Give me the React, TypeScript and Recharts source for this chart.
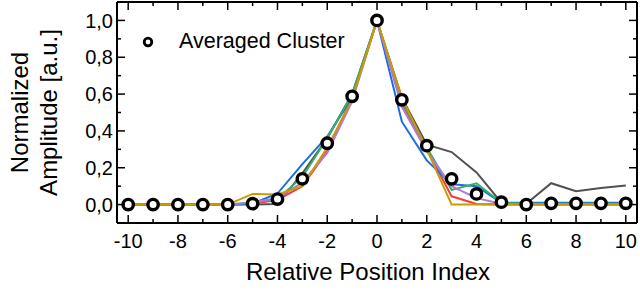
import React from 'react';
import { LineChart, Line, XAxis, YAxis, Legend } from 'recharts';

const positions = [-10, -9, -8, -7, -6, -5, -4, -3, -2, -1, 0, 1, 2, 3, 4, 5, 6, 7, 8, 9, 10];
const averagedCluster = [0, 0, 0, 0, 0, 0.005, 0.03, 0.14, 0.333, 0.588, 1.0, 0.569, 0.32, 0.14, 0.058, 0.013, 0.0, 0.007, 0.007, 0.007, 0.007];
const seriesGray = [0, 0, 0, 0, 0, 0, 0.003, 0.17, 0.36, 0.6, 1.0, 0.58, 0.325, 0.285, 0.175, 0.01, 0.004, 0.116, 0.072, 0.09, 0.103];
const seriesRed = [0, 0, 0, 0, 0, 0.005, 0.025, 0.1, 0.29, 0.58, 1.0, 0.55, 0.3, 0.045, 0.003, 0, 0, 0, 0, 0, 0];
const seriesBlue = [0, 0, 0, 0, 0, 0.005, 0.06, 0.22, 0.37, 0.58, 1.0, 0.45, 0.24, 0.11, 0.1, 0.01, 0.01, 0.01, 0.01, 0.01, 0.01];
const seriesGreen = [0, 0, 0, 0, 0, 0.01, 0.03, 0.15, 0.36, 0.6, 1.0, 0.56, 0.31, 0.08, 0.115, 0.01, 0.005, 0.005, 0.005, 0.005, 0.005];
const seriesPurple = [0, 0, 0, 0, 0, 0.012, 0.035, 0.12, 0.28, 0.56, 1.0, 0.53, 0.29, 0.1, 0.035, 0.005, 0, 0, 0, 0, 0];
const seriesOrange = [0, 0, 0, 0, 0, 0.058, 0.055, 0.1, 0.31, 0.57, 1.0, 0.58, 0.3, 0, 0, 0, 0, 0, 0, 0, 0];

const xTicks = positions;
const yTicks = [0, 0.1, 0.2, 0.3, 0.4, 0.5, 0.6, 0.7, 0.8, 0.9, 1.0];
const xDomain = [-10.45, 10.45];
const yDomain = [-0.1, 1.1];

const lineSeries = [
  { key: 'gray', values: seriesGray, color: '#515151' },
  { key: 'red', values: seriesRed, color: '#F14040' },
  { key: 'blue', values: seriesBlue, color: '#1A6FDF' },
  { key: 'green', values: seriesGreen, color: '#37AD6B' },
  { key: 'purple', values: seriesPurple, color: '#B177DE' },
  { key: 'orange', values: seriesOrange, color: '#CC9900' },
];

const data = positions.map((x, i) => {
  const row: Record<string, number> = { x, avg: averagedCluster[i] };
  lineSeries.forEach((s) => {
    row[s.key] = s.values[i];
  });
  return row;
});

const FONT = '"Liberation Sans", Arial, Helvetica, sans-serif';

const BottomTick = (props: any) => {
  const { x, y, payload } = props;
  const v = payload.value as number;
  const major = Math.round(v) % 2 === 0;
  return (
    <g>
      <line x1={x} x2={x} y1={y} y2={y - (major ? 8 : 4)} stroke="#000" strokeWidth={1.5} />
      {major && (
        <text x={x} y={y + 25} textAnchor="middle" fontSize={20} fontFamily={FONT} fill="#000">
          {String(v)}
        </text>
      )}
    </g>
  );
};

const TopTick = (props: any) => {
  const { x, y, payload } = props;
  const v = payload.value as number;
  const major = Math.round(v) % 2 === 0;
  return <line x1={x} x2={x} y1={y} y2={y + (major ? 8 : 4)} stroke="#000" strokeWidth={1.5} />;
};

const LeftTick = (props: any) => {
  const { x, y, payload } = props;
  const v = payload.value as number;
  const major = Math.round(v * 10) % 2 === 0;
  return (
    <g>
      <line x1={x} x2={x + (major ? 8 : 4)} y1={y} y2={y} stroke="#000" strokeWidth={1.5} />
      {major && (
        <text x={x - 4} y={y} dy="0.36em" textAnchor="end" fontSize={20} fontFamily={FONT} fill="#000">
          {v.toFixed(1).replace('.', ',')}
        </text>
      )}
    </g>
  );
};

const RightTick = (props: any) => {
  const { x, y, payload } = props;
  const v = payload.value as number;
  const major = Math.round(v * 10) % 2 === 0;
  return <line x1={x} x2={x - (major ? 8 : 4)} y1={y} y2={y} stroke="#000" strokeWidth={1.5} />;
};

const YLabel = (props: any) => {
  const vb = props.viewBox || { y: 2, height: 221 };
  const cy = vb.y + vb.height / 2;
  return (
    <g fontFamily={FONT} fontSize={24} fill="#000">
      <text x={28} y={cy} transform={`rotate(-90, 28, ${cy})`} textAnchor="middle">
        Normalized
      </text>
      <text x={57} y={cy} transform={`rotate(-90, 57, ${cy})`} textAnchor="middle">
        Amplitude [a.u.]
      </text>
    </g>
  );
};

const XLabel = (props: any) => {
  const vb = props.viewBox || { x: 117, width: 520 };
  const cx = vb.x + vb.width / 2 - 9;
  return (
    <text x={cx} y={280} textAnchor="middle" fontFamily={FONT} fontSize={24} fill="#000">
      Relative Position Index
    </text>
  );
};

const LegendContent = () => (
  <div style={{ display: 'flex', alignItems: 'center', fontFamily: FONT, fontSize: 21.5, color: '#000' }}>
    <svg width={12} height={12} style={{ marginRight: 25 }}>
      <circle cx={6} cy={6} r={3.8} fill="#fff" stroke="#000" strokeWidth={2.8} />
    </svg>
    <span>Averaged Cluster</span>
  </div>
);

export default function App() {
  return (
    <div style={{ position: 'absolute', left: 0, top: 0, width: 640, height: 295, background: '#fff' }}>
      <LineChart width={640} height={295} data={data} margin={{ top: 0, right: 0, bottom: 0, left: 0 }}>
        <XAxis
          xAxisId="bottom"
          dataKey="x"
          type="number"
          domain={xDomain}
          allowDataOverflow
          ticks={xTicks}
          interval={0}
          height={72}
          tickSize={0}
          tickMargin={0}
          tickLine={false}
          axisLine={{ stroke: '#000', strokeWidth: 2 }}
          tick={<BottomTick />}
          label={{ content: <XLabel /> }}
        />
        <XAxis
          xAxisId="top"
          orientation="top"
          dataKey="x"
          type="number"
          domain={xDomain}
          allowDataOverflow
          ticks={xTicks}
          interval={0}
          height={2}
          tickSize={0}
          tickMargin={0}
          tickLine={false}
          axisLine={{ stroke: '#000', strokeWidth: 2 }}
          tick={<TopTick />}
        />
        <YAxis
          yAxisId="left"
          type="number"
          domain={yDomain}
          allowDataOverflow
          ticks={yTicks}
          interval={0}
          width={117}
          tickSize={0}
          tickMargin={0}
          tickLine={false}
          axisLine={{ stroke: '#000', strokeWidth: 2 }}
          tick={<LeftTick />}
          label={{ content: <YLabel /> }}
        />
        <YAxis
          yAxisId="right"
          orientation="right"
          type="number"
          domain={yDomain}
          allowDataOverflow
          ticks={yTicks}
          interval={0}
          width={3}
          tickSize={0}
          tickMargin={0}
          tickLine={false}
          axisLine={{ stroke: '#000', strokeWidth: 2 }}
          tick={<RightTick />}
        />
        {lineSeries.map((s) => (
          <Line
            key={s.key}
            xAxisId="bottom"
            yAxisId="left"
            type="linear"
            dataKey={s.key}
            stroke={s.color}
            strokeWidth={2}
            dot={false}
            activeDot={false}
            isAnimationActive={false}
            legendType="none"
          />
        ))}
        <Line
          xAxisId="bottom"
          yAxisId="left"
          type="linear"
          dataKey="avg"
          name="Averaged Cluster"
          stroke="none"
          dot={{ r: 5.2, fill: '#fff', stroke: '#000', strokeWidth: 3.4 }}
          activeDot={false}
          isAnimationActive={false}
        />
        <Legend
          layout="vertical"
          align="center"
          verticalAlign="middle"
          content={<LegendContent />}
          wrapperStyle={{ position: 'absolute', left: 142, top: 29, width: 'auto', height: 'auto' }}
        />
      </LineChart>
    </div>
  );
}
